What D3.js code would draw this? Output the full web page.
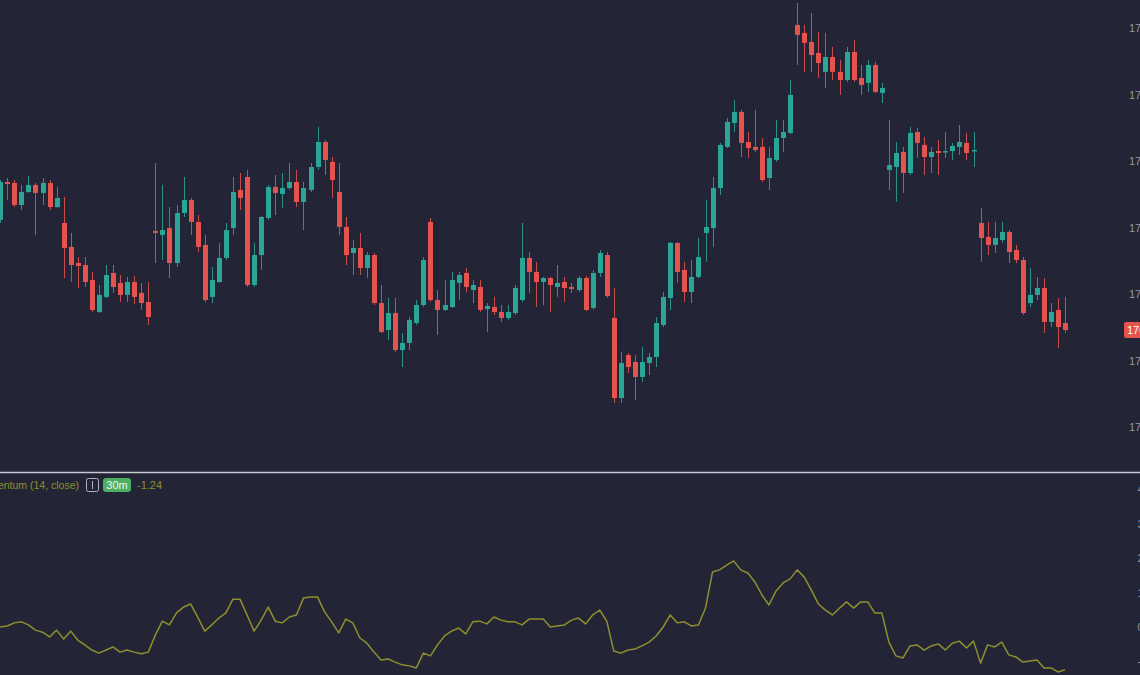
<!DOCTYPE html>
<html>
<head>
<meta charset="utf-8">
<script src="https://cdnjs.cloudflare.com/ajax/libs/d3/7.8.5/d3.min.js"></script>
<style>
html,body{margin:0;padding:0;background:#232536;overflow:hidden;}
svg{display:block;}
</style>
</head>
<body>
<svg id="chart" width="1140" height="675"></svg>
<script>
const opens = [1775.57,1778.42,1778.35,1776.69,1777.67,1778.20,1777.60,1778.35,1776.54,1775.34,1773.54,1772.33,1772.18,1771.05,1768.65,1769.78,1771.58,1770.83,1769.93,1770.90,1770.08,1769.40,1774.74,1774.44,1774.96,1772.33,1776.09,1777.07,1775.42,1773.69,1769.78,1770.90,1772.71,1774.96,1777.82,1778.80,1770.68,1772.93,1775.72,1778.05,1777.52,1777.97,1778.42,1776.92,1777.82,1779.55,1781.43,1779.93,1777.67,1775.04,1773.08,1773.46,1771.96,1772.93,1769.32,1767.29,1768.57,1765.79,1766.32,1767.82,1769.17,1775.42,1769.55,1768.80,1769.02,1770.83,1771.58,1770.30,1770.53,1768.87,1769.02,1768.65,1768.20,1768.57,1769.55,1772.71,1771.66,1770.90,1771.20,1770.53,1770.90,1770.53,1770.30,1771.20,1768.95,1771.58,1772.93,1768.20,1762.18,1765.41,1764.89,1763.76,1764.81,1765.26,1767.67,1769.70,1773.84,1771.81,1770.15,1771.28,1774.59,1774.96,1777.97,1781.06,1782.86,1783.69,1781.43,1781.06,1781.06,1778.72,1780.08,1781.73,1782.11,1790.23,1789.63,1788.95,1788.12,1786.70,1787.82,1786.70,1786.09,1788.20,1786.24,1785.87,1787.22,1785.12,1779.33,1779.55,1780.68,1779.10,1782.18,1781.21,1780.30,1780.75,1780.68,1780.75,1781.06,1781.36,1780.75,1775.34,1774.29,1773.69,1774.06,1774.66,1773.31,1772.56,1769.32,1769.93,1770.45,1767.90,1768.80,1767.82];
const highs = [1778.57,1778.72,1778.57,1778.20,1778.87,1778.35,1778.72,1778.57,1778.05,1777.30,1774.59,1772.78,1772.78,1771.66,1770.68,1772.18,1772.18,1771.43,1771.28,1771.35,1770.83,1770.90,1779.85,1778.20,1776.54,1776.69,1778.80,1777.22,1775.94,1774.44,1772.03,1773.84,1775.34,1778.80,1779.10,1779.33,1773.84,1775.87,1778.20,1778.95,1779.10,1779.85,1779.33,1778.42,1779.85,1782.56,1781.58,1780.30,1779.85,1775.79,1774.06,1774.59,1773.16,1773.08,1770.68,1769.70,1769.70,1767.07,1768.27,1769.55,1772.78,1775.72,1770.30,1771.05,1771.66,1771.66,1771.96,1771.05,1771.05,1769.32,1769.78,1769.17,1769.17,1770.68,1775.34,1773.16,1772.41,1771.28,1771.28,1772.18,1771.28,1770.83,1771.35,1771.35,1771.81,1773.31,1773.16,1770.45,1765.64,1765.56,1765.41,1766.02,1765.56,1768.27,1770.15,1773.91,1773.91,1772.41,1772.56,1774.21,1777.07,1778.80,1781.36,1783.24,1784.59,1783.84,1782.18,1783.84,1781.73,1781.06,1783.09,1783.09,1786.09,1791.88,1790.23,1791.13,1789.70,1789.63,1788.58,1787.60,1788.58,1789.10,1787.22,1787.60,1787.45,1785.87,1783.09,1781.43,1781.06,1782.56,1782.48,1781.81,1781.06,1781.58,1782.18,1781.36,1782.71,1782.11,1782.18,1776.47,1775.42,1775.42,1775.42,1774.81,1773.69,1772.78,1771.96,1771.28,1771.20,1769.32,1769.70,1769.78];
const lows = [1775.34,1777.07,1776.54,1776.32,1777.60,1774.44,1776.69,1776.32,1776.47,1771.20,1770.90,1770.45,1770.53,1768.65,1768.57,1769.70,1770.08,1769.40,1769.40,1769.25,1768.80,1767.67,1772.33,1772.56,1771.20,1772.03,1775.79,1774.44,1773.16,1769.40,1769.32,1770.83,1772.56,1774.44,1776.32,1770.53,1770.53,1771.81,1775.57,1775.94,1776.47,1777.82,1776.54,1774.81,1777.67,1779.33,1778.95,1777.22,1774.44,1772.18,1771.43,1771.43,1771.20,1769.17,1767.07,1766.54,1765.64,1764.51,1765.79,1767.67,1769.02,1769.40,1766.92,1768.72,1768.95,1769.55,1770.15,1769.32,1768.65,1767.14,1768.42,1767.90,1768.05,1768.42,1769.40,1770.08,1769.02,1769.17,1768.65,1769.78,1769.40,1770.08,1770.15,1768.72,1768.80,1771.28,1769.70,1761.80,1761.80,1764.06,1762.03,1763.38,1763.91,1764.51,1767.52,1768.80,1770.83,1769.40,1769.32,1771.20,1772.41,1773.54,1777.45,1780.98,1782.18,1780.30,1780.23,1780.68,1778.42,1777.82,1779.93,1780.68,1782.03,1787.22,1786.70,1786.70,1786.24,1785.49,1786.09,1784.97,1785.94,1785.94,1784.97,1785.19,1785.12,1784.36,1777.82,1776.92,1777.60,1778.95,1780.23,1778.95,1779.10,1778.95,1780.23,1780.08,1780.45,1780.08,1779.55,1772.41,1772.93,1773.08,1773.84,1772.33,1772.33,1768.42,1769.02,1769.55,1767.07,1767.52,1765.94,1767.07];
const closes = [1778.42,1778.27,1776.69,1777.67,1778.20,1777.60,1778.35,1776.54,1777.22,1773.46,1772.18,1772.11,1770.90,1768.80,1769.93,1771.43,1770.53,1769.93,1770.90,1769.78,1769.32,1768.27,1774.59,1774.81,1772.33,1776.09,1777.07,1775.42,1773.54,1769.55,1771.05,1772.71,1774.81,1777.67,1777.22,1770.68,1772.93,1775.79,1778.05,1777.60,1777.97,1778.42,1776.92,1777.97,1779.55,1781.43,1780.08,1778.57,1775.04,1772.93,1773.46,1771.96,1772.93,1769.32,1767.14,1768.57,1765.79,1766.32,1768.05,1769.17,1772.56,1769.55,1768.80,1769.17,1771.05,1771.43,1770.53,1770.68,1768.80,1769.10,1768.65,1768.20,1768.65,1770.45,1772.71,1771.66,1770.90,1771.20,1770.68,1770.83,1770.45,1770.38,1771.20,1768.80,1771.58,1773.08,1769.85,1762.18,1764.81,1764.51,1763.76,1764.89,1765.26,1767.82,1769.78,1773.84,1771.66,1770.15,1771.28,1772.78,1775.04,1777.97,1781.21,1782.94,1783.69,1781.36,1780.98,1780.83,1778.57,1780.23,1781.73,1782.18,1784.97,1789.48,1788.88,1787.97,1787.37,1787.82,1786.70,1786.09,1788.20,1786.09,1785.72,1787.22,1785.19,1785.49,1779.70,1780.60,1779.10,1782.11,1781.36,1780.30,1780.68,1780.60,1780.75,1781.13,1781.43,1780.60,1780.83,1774.21,1773.69,1774.21,1774.66,1773.16,1772.56,1768.57,1769.93,1770.45,1767.90,1768.65,1767.52,1767.29];
const momentum = [0.00,0.03,0.12,0.15,0.06,-0.09,-0.15,-0.29,-0.09,-0.35,-0.12,-0.38,-0.52,-0.67,-0.76,-0.67,-0.58,-0.73,-0.67,-0.73,-0.78,-0.73,-0.23,0.17,0.06,0.41,0.58,0.67,0.29,-0.12,0.06,0.26,0.41,0.81,0.81,0.35,-0.12,0.20,0.58,0.17,0.12,0.29,0.35,0.84,0.87,0.87,0.44,0.15,-0.17,0.23,0.12,-0.32,-0.47,-0.73,-0.96,-0.93,-1.02,-1.10,-1.13,-1.19,-0.76,-0.84,-0.52,-0.26,-0.12,-0.03,-0.20,0.15,0.17,0.09,0.29,0.20,0.15,0.15,0.06,0.23,0.23,0.23,0.00,0.03,0.06,0.20,0.26,0.09,0.35,0.49,0.17,-0.70,-0.76,-0.67,-0.64,-0.55,-0.44,-0.26,0.00,0.35,0.12,0.15,0.03,0.06,0.55,1.60,1.66,1.80,1.92,1.66,1.57,1.31,0.93,0.64,1.05,1.28,1.40,1.66,1.45,1.08,0.67,0.49,0.35,0.55,0.73,0.55,0.73,0.73,0.41,0.41,-0.44,-0.84,-0.90,-0.55,-0.52,-0.67,-0.55,-0.49,-0.67,-0.47,-0.41,-0.61,-0.41,-1.05,-0.52,-0.58,-0.44,-0.81,-0.87,-1.02,-0.99,-0.96,-1.19,-1.19,-1.31,-1.24];
const priceTicks = [1760, 1765, 1770, 1775, 1780, 1785, 1790];
const momTicks = [-1, 0, 1, 2, 3, 4];
const indicatorName = "Momentum (14, close)";
const intervalLabel = "30m";

const UP = "#2ba596", DOWN = "#e5534f", OLIVE = "#8f8f2c";
const FONT = "Liberation Sans, Arial, sans-serif";
const fmt = v => d3.format(".2f")(v).replace("\u2212", "-");
const svg = d3.select("#chart");
const idx = d3.range(closes.length);

const x = d3.scaleBand().domain(idx).range([-2.32, 1067.72]).paddingInner(0.29).paddingOuter(0);
const y = d3.scaleLinear().domain([1760, 1790]).range([427, 28]);
const ym = d3.scaleLinear().domain([-1, 4]).range([661.4, 489.4]);
const cx = i => x(i) + x.bandwidth() / 2;

// price axis (right, clipped by window edge)
const pAxis = d3.axisRight(y).tickValues(priceTicks).tickSize(0).tickPadding(0).tickFormat(fmt);
svg.append("g").attr("transform", "translate(1129,0)").call(pAxis)
  .call(g => g.select(".domain").remove())
  .call(g => g.selectAll("text").attr("fill", "#9598a1").attr("font-size", 11).attr("font-family", FONT));

// candles
const c = svg.append("g");
c.selectAll("line.wick").data(idx).join("line")
  .attr("x1", i => Math.round(cx(i)) + 0.5).attr("x2", i => Math.round(cx(i)) + 0.5)
  .attr("y1", i => y(highs[i])).attr("y2", i => y(lows[i]))
  .attr("stroke", i => closes[i] >= opens[i] ? UP : DOWN).attr("stroke-width", 1).attr("stroke-opacity", 0.85);
c.selectAll("rect.body").data(idx).join("rect")
  .attr("x", i => Math.round(cx(i)) - 2).attr("width", 5)
  .attr("y", i => y(Math.max(opens[i], closes[i])))
  .attr("height", i => Math.max(1.5, Math.abs(y(opens[i]) - y(closes[i]))))
  .attr("fill", i => closes[i] >= opens[i] ? UP : DOWN);

// last price label
const last = closes[closes.length - 1];
svg.append("rect").attr("x", 1124).attr("y", y(last) - 8).attr("width", 30).attr("height", 16).attr("rx", 2).attr("fill", DOWN);
svg.append("text").attr("x", 1127).attr("y", y(last) + 4).attr("fill", "#fff").attr("font-size", 11)
  .attr("font-family", FONT).text(fmt(last));

// pane separator
svg.append("line").attr("x1", 0).attr("x2", 1140).attr("y1", 472.5).attr("y2", 472.5).attr("stroke", "#c9cad3").attr("stroke-width", 1.6);

// momentum axis
const mAxis = d3.axisRight(ym).tickValues(momTicks).tickSize(0).tickPadding(0).tickFormat(fmt);
svg.append("g").attr("transform", "translate(1137.5,0)").call(mAxis)
  .call(g => g.select(".domain").remove())
  .call(g => g.selectAll("text").attr("fill", "#9598a1").attr("font-size", 11).attr("font-family", FONT));

// momentum line
const line = d3.line().x(i => cx(i)).y(i => ym(momentum[i]));
svg.append("path").datum(idx).attr("d", line).attr("fill", "none").attr("stroke", OLIVE).attr("stroke-width", 1.5).attr("stroke-linejoin", "round");

// indicator legend
const lg = svg.append("g").attr("font-family", FONT).attr("font-size", 11);
lg.append("text").attr("x", 79).attr("y", 489).attr("text-anchor", "end").attr("font-size", 10.5).attr("fill", OLIVE).text(indicatorName);
lg.append("rect").attr("x", 86.5).attr("y", 478.5).attr("width", 12).attr("height", 13).attr("rx", 2).attr("fill", "none").attr("stroke", "#b0b2ba").attr("stroke-width", 1);
lg.append("line").attr("x1", 92.5).attr("x2", 92.5).attr("y1", 481).attr("y2", 489).attr("stroke", "#b0b2ba");
lg.append("rect").attr("x", 103).attr("y", 478).attr("width", 28).attr("height", 14).attr("rx", 3).attr("fill", "#4caf61");
lg.append("text").attr("x", 117).attr("y", 489).attr("text-anchor", "middle").attr("fill", "#eaf6ea").text(intervalLabel);
lg.append("text").attr("x", 137).attr("y", 489).attr("fill", OLIVE).text(fmt(momentum[momentum.length - 1]));
</script>
</body>
</html>
